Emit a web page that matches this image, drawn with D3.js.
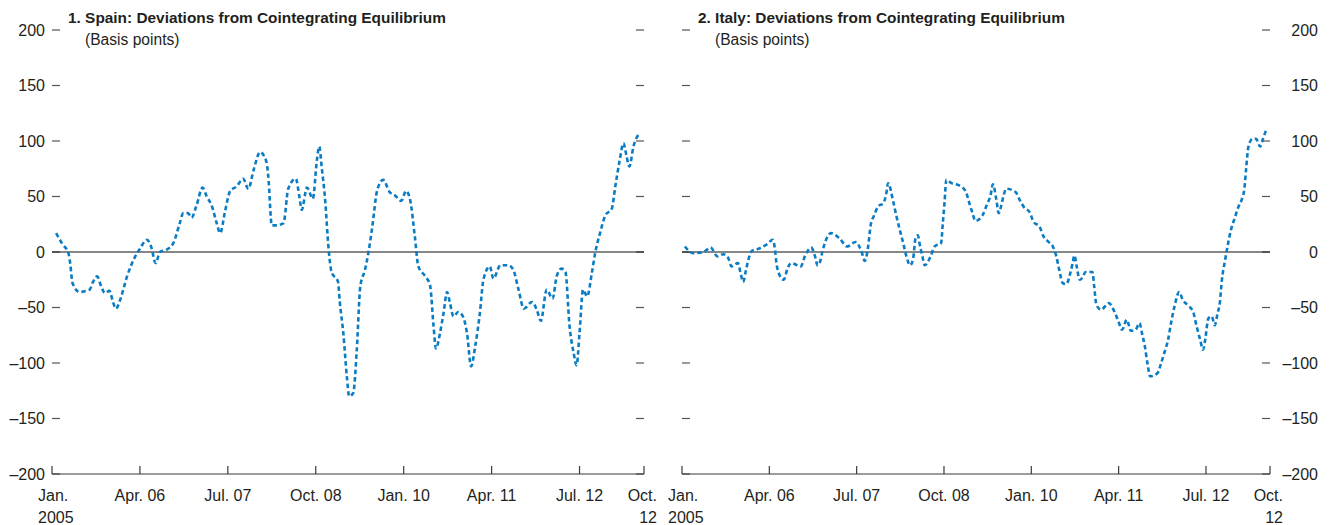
<!DOCTYPE html>
<html><head><meta charset="utf-8">
<script src="https://cdn.jsdelivr.net/npm/d3@7"></script>
<style>
body{margin:0;background:#fff;}
text{font-family:"Liberation Sans Narrow","Arial Narrow","Liberation Sans",sans-serif;fill:#231f20;}
</style></head>
<body><svg id="c" width="1330" height="525"></svg>
<script>
// Months since Jan. 2005 and values in basis points
const spainMonths = [0.7,1.8,2.8,3.1,3.5,4.7,6.4,7.0,7.7,8.4,9.0,9.8,10.4,10.9,11.7,12.8,14.2,15.0,16.2,16.9,17.7,18.4,19.5,20.7,21.8,22.4,23.2,23.8,24.6,25.7,26.4,27.3,28.1,28.7,29.5,30.4,31.5,32.6,33.5,34.4,35.5,36.6,36.9,37.5,38.3,39.5,40.3,41.6,42.2,42.6,43.5,44.5,45.2,45.6,46.0,46.6,47.2,47.7,48.8,49.1,49.7,50.3,50.7,51.4,52.0,52.6,53.4,54.0,54.6,55.5,56.5,57.6,58.5,59.6,60.4,61.1,61.9,62.5,63.7,64.5,65.1,65.5,66.2,66.8,67.4,67.9,68.5,69.3,70.1,70.8,71.5,72.2,73.0,73.6,74.7,75.3,76.5,77.9,78.7,79.6,80.5,81.9,82.7,83.4,84.4,85.4,86.1,86.9,87.6,88.3,89.0,89.5,90.0,90.6,91.3,92.1,92.7,93.5,94.4,95.5,96.1,96.8,97.5,98.0,98.5,99.2,100.2];
const spainValues = [17,7,-1,-10,-28,-36,-34,-27,-22,-31,-37,-35,-45,-51,-42,-22,-4,3,11,5,-10,0,2,8,26,35,35,31,41,58,50,41,26,17,36,55,59,66,57,74,90,81,68,24,24,26,57,66,50,38,58,48,83,95,77,47,2,-18,-27,-45,-73,-112,-130,-127,-88,-31,-16,0,21,56,65,54,51,46,55,47,14,-13,-22,-30,-67,-87,-73,-55,-36,-46,-58,-54,-58,-73,-103,-85,-55,-25,-13,-24,-12,-12,-16,-34,-51,-45,-52,-62,-34,-42,-22,-15,-18,-67,-91,-102,-73,-34,-40,-19,0,17,33,39,59,81,98,87,77,95,107];

const italyMonths = [0.5,1.9,3.7,4.9,6.1,7.1,7.9,8.5,9.6,10.1,10.5,11.0,11.4,12.0,13.2,14.6,15.6,16.0,16.2,16.6,17.5,18.1,18.8,20.4,21.1,22.2,22.8,23.3,23.7,24.1,24.6,25.6,27.1,28.4,29.8,30.8,31.4,32.0,32.4,33.0,33.7,34.6,35.1,35.4,36.3,36.8,37.4,38.0,38.5,39.2,39.7,40.1,40.5,40.9,41.3,41.7,42.7,43.4,44.5,44.8,45.1,45.4,46.3,47.6,48.7,49.3,49.9,50.4,51.6,52.4,53.0,53.4,54.0,54.4,54.8,55.2,55.7,57.3,58.0,58.8,59.7,60.4,61.4,62.1,63.0,63.7,64.3,64.8,65.4,66.0,66.7,67.1,67.4,67.8,68.3,68.9,69.3,70.5,70.8,71.2,72.0,73.3,74.3,75.0,75.6,76.4,77.1,77.9,78.6,79.0,79.5,80.0,80.4,81.7,82.3,82.9,83.5,84.0,84.6,85.4,86.0,86.9,87.8,88.4,89.0,89.5,89.9,90.4,91.0,91.5,92.0,92.4,92.7,93.3,93.7,94.3,94.9,95.6,96.2,96.6,96.9,97.3,98.0,98.6,99.3,99.8,100.4];
const italyValues = [5,-1,0,4,-4,-2,-5,-13,-10,-20,-27,-16,-7,1,3,7,11,1,-9,-19,-25,-15,-10,-13,-4,4,-3,-12,-9,0,9,17,12,5,9,1,-8,6,24,33,41,44,53,62,45,33,20,8,-3,-12,-6,12,15,5,-4,-12,-4,5,8,26,45,65,62,60,55,45,35,28,33,43,51,61,47,35,41,50,57,54,47,40,36,27,23,14,9,5,-4,-16,-28,-29,-19,-10,-3,-13,-25,-22,-18,-18,-31,-48,-52,-46,-54,-63,-70,-61,-71,-70,-64,-73,-85,-102,-112,-109,-100,-90,-79,-64,-49,-36,-43,-48,-54,-67,-79,-88,-78,-60,-58,-66,-55,-45,-27,-7,5,20,30,41,48,57,75,95,102,102,95,102,111];

const yTicks = [-200,-150,-100,-50,0,50,100,150,200];
const xTickMonths = [0,15,30,45,60,75,90,101];
const xTickLabels = [["Jan.","2005"],["Apr. 06"],["Jul. 07"],["Oct. 08"],["Jan. 10"],["Apr. 11"],["Jul. 12"],["Oct.","12"]];
const yLabels = yTicks.map(v => v < 0 ? "\u2013" + Math.abs(v) : String(v));

const panels = [
  {title:"1. Spain: Deviations from Cointegrating Equilibrium", months:spainMonths, values:spainValues, x0:52, x1:644, labelX:45, titleX:68},
  {title:"2. Italy: Deviations from Cointegrating Equilibrium", months:italyMonths, values:italyValues, x0:682, x1:1270, labelX:1318, titleX:698}
];

const svg = d3.select("#c");
const y = d3.scaleLinear().domain([-200,200]).range([474,30]);
const lineColor = "#0b7cc3";
const axisColor = "#3a3a3a";

panels.forEach(p => {
  const x = d3.scaleLinear().domain([0,101]).range([p.x0,p.x1]);
  const g = svg.append("g");

  yTicks.forEach(v => {
    g.append("line").attr("x1",p.x0).attr("x2",p.x0+8).attr("y1",y(v)).attr("y2",y(v)).attr("stroke","#555").attr("stroke-width",1.2);
    g.append("line").attr("x1",p.x1-8).attr("x2",p.x1).attr("y1",y(v)).attr("y2",y(v)).attr("stroke","#555").attr("stroke-width",1.2);
  });
  yTicks.forEach((v,i) => {
    g.append("text").attr("x",p.labelX).attr("y",y(v)).attr("dy","0.35em")
      .attr("text-anchor","end").attr("font-size",16).text(yLabels[i]);
  });

  g.append("line").attr("x1",p.x0).attr("x2",p.x1).attr("y1",y(0)).attr("y2",y(0)).attr("stroke","#111").attr("stroke-width",1.2);

  g.append("line").attr("x1",p.x0).attr("x2",p.x1).attr("y1",y(-200)).attr("y2",y(-200)).attr("stroke",axisColor).attr("stroke-width",1.2);
  xTickMonths.forEach((m,i) => {
    const tx = x(m);
    g.append("line").attr("x1",tx).attr("x2",tx).attr("y1",y(-200)).attr("y2",y(-200)-8).attr("stroke",axisColor).attr("stroke-width",1.2);
    const lab = xTickLabels[i];
    let anchor = "middle", lx = tx;
    if (i === 0) { anchor = "start"; lx = tx - 14; }
    if (i === xTickMonths.length-1) { anchor = "end"; lx = tx + 13; }
    const t = g.append("text").attr("x",lx).attr("y",501).attr("text-anchor",anchor).attr("font-size",16);
    lab.forEach((s,k) => t.append("tspan").attr("x",lx).attr("dy",k===0?0:22).text(s));
  });

  g.append("text").attr("x",p.titleX).attr("y",23).attr("font-size",15.4).attr("font-weight","bold").text(p.title);
  g.append("text").attr("x",p.titleX+17).attr("y",45).attr("font-size",15.6).text("(Basis points)");

  const pts = p.months.map((m,i) => [m, p.values[i]]);
  const line = d3.line().x(d => x(d[0])).y(d => y(d[1])).curve(d3.curveMonotoneX);
  g.append("path").datum(pts).attr("d",line).attr("fill","none")
    .attr("stroke",lineColor).attr("stroke-width",2.6).attr("stroke-dasharray","4.5 3");
});
</script></body></html>
